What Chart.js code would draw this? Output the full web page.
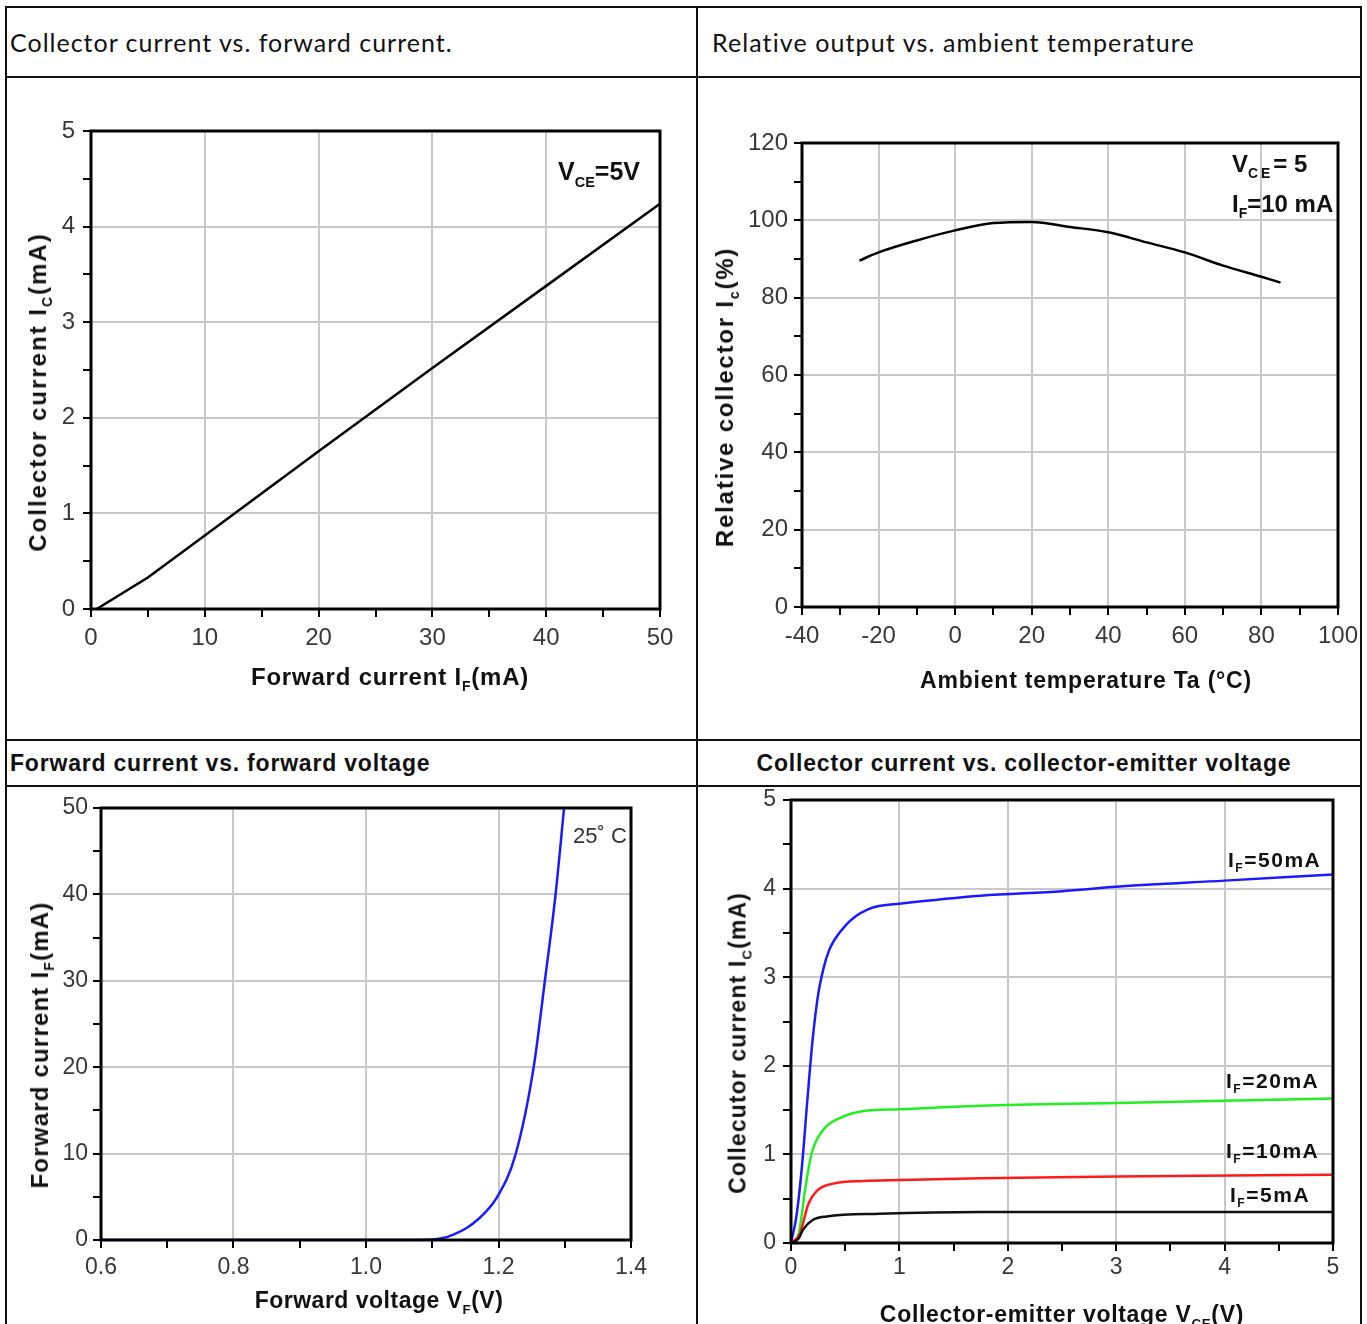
<!DOCTYPE html>
<html>
<head>
<meta charset="utf-8">
<script src="https://cdn.jsdelivr.net/npm/chart.js@4.4.1/dist/chart.umd.min.js"></script>
<style>
body { margin:0; width:1367px; height:1324px; overflow:hidden; background:#fff; position:relative; font-family:"Liberation Sans", Arial, sans-serif; }
.ln { position:absolute; background:#111; }
.hd { position:absolute; white-space:nowrap; color:#111; line-height:1; }
.cell { position:absolute; }
.tt { position:absolute; font-weight:bold; font-size:22px; line-height:1; color:#111; white-space:nowrap; transform:translate(-50%,-50%); }
.tt.rot { transform:translate(-50%,-50%) rotate(-90deg); }
.note { position:absolute; font-weight:bold; font-size:21px; line-height:1; color:#111; white-space:nowrap; }
sub { font-size:58%; vertical-align:-0.45em; line-height:0; }
</style>
</head>
<body>

<!-- table frame -->
<div class="ln" style="left:5px;top:6px;width:1357px;height:2px"></div>
<div class="ln" style="left:5px;top:6px;width:2px;height:1330px"></div>
<div class="ln" style="left:1360px;top:6px;width:2px;height:1330px"></div>
<div class="ln" style="left:696px;top:6px;width:2px;height:1330px"></div>
<div class="ln" style="left:5px;top:76px;width:1357px;height:2px"></div>
<div class="ln" style="left:5px;top:739px;width:1357px;height:2px"></div>
<div class="ln" style="left:5px;top:785px;width:1357px;height:2px"></div>

<div class="hd" style="left:10px;top:30px;font-family:Lato,sans-serif;font-size:25px;letter-spacing:1px;">Collector current vs. forward current.</div>
<div class="hd" style="left:712px;top:30px;font-family:Lato,sans-serif;font-size:25px;letter-spacing:1.1px;">Relative output vs. ambient temperature</div>
<div class="hd" style="left:10px;top:752px;font-size:23px;font-weight:bold;letter-spacing:0.8px;">Forward current vs. forward voltage</div>
<div class="hd" style="left:1024px;top:752px;font-size:23px;font-weight:bold;letter-spacing:0.8px;transform:translateX(-50%);">Collector current vs. collector-emitter voltage</div>

<div class="cell" style="left:7px;top:79px;"><canvas id="c1" width="688" height="659"></canvas></div>
<div class="cell" style="left:699px;top:79px;"><canvas id="c2" width="671" height="659"></canvas></div>
<div class="cell" style="left:7px;top:787px;"><canvas id="c3" width="688" height="537"></canvas></div>
<div class="cell" style="left:699px;top:775px;"><canvas id="c4" width="660" height="549"></canvas></div>

<!-- axis titles -->
<div class="tt" style="left:390px;top:677px;font-size:24px;letter-spacing:0.8px;">Forward current I<sub>F</sub>(mA)</div>
<div class="tt rot" style="left:38px;top:392px;font-size:24px;letter-spacing:2px;">Collector current I<sub>C</sub>(mA)</div>
<div class="tt" style="left:1086px;top:680px;font-size:23px;letter-spacing:0.8px;">Ambient temperature Ta (°C)</div>
<div class="tt rot" style="left:725px;top:397px;font-size:24px;letter-spacing:1.8px;">Relative collector I<sub>c</sub>(%)</div>
<div class="tt" style="left:379px;top:1300px;font-size:23px;letter-spacing:0.5px;">Forward voltage V<sub>F</sub>(V)</div>
<div class="tt rot" style="left:40px;top:1045px;font-size:24px;letter-spacing:1.2px;">Forward current I<sub>F</sub>(mA)</div>
<div class="tt" style="left:1062px;top:1314px;font-size:23px;letter-spacing:0.7px;">Collector-emitter voltage V<sub>CE</sub>(V)</div>
<div class="tt rot" style="left:738px;top:1043px;font-size:23px;letter-spacing:1.1px;">Collecutor current I<sub>C</sub>(mA)</div>

<!-- notes -->
<div class="note" style="left:558px;top:159px;font-size:25px;">V<sub>CE</sub>=5V</div>
<div class="note" style="left:1232px;top:152px;font-size:24px;">V<sub style="letter-spacing:3px">CE</sub>= 5</div>
<div class="note" style="left:1232px;top:192px;font-size:24px;">I<sub>F</sub>=10 mA</div>
<div class="note" style="left:573px;top:825px;font-weight:normal;font-size:22px;color:#333;">25˚ C</div>
<div class="note" style="left:1228px;top:849px;letter-spacing:1.5px;">I<sub>F</sub>=50mA</div>
<div class="note" style="left:1226px;top:1070px;letter-spacing:1.5px;">I<sub>F</sub>=20mA</div>
<div class="note" style="left:1226px;top:1140px;letter-spacing:1.5px;">I<sub>F</sub>=10mA</div>
<div class="note" style="left:1230px;top:1184px;letter-spacing:1.5px;">I<sub>F</sub>=5mA</div>

<script>
// collector current vs. forward current
var ifFwd = [0.5, 5, 10, 20, 30, 40, 50];
var icFwd = [0, 0.33, 0.77, 1.65, 2.52, 3.38, 4.24];

// relative output vs. ambient temperature
var tempC = [-25, -20, -10, 0, 10, 20, 30, 40, 50, 60, 70, 80, 85];
var relOut = [89.6, 91.7, 94.8, 97.4, 99.3, 99.6, 98.3, 96.9, 94.3, 91.7, 88.3, 85.4, 83.9];

// forward current vs. forward voltage
var vf = [0.6, 1.07, 1.1, 1.12, 1.136, 1.15, 1.162, 1.18, 1.197, 1.225, 1.253, 1.27, 1.286, 1.299];
var ifVf = [0, 0, 0.05, 0.3, 0.77, 1.3, 1.93, 3.2, 4.84, 9.7, 19.95, 30, 39.9, 50];

// collector current vs. collector-emitter voltage, one pair per IF
var vce50 = [0, 0.05, 0.1, 0.15, 0.2, 0.25, 0.3, 0.35, 0.4, 0.5, 0.6, 0.7, 0.8, 1, 1.75, 2.5, 3, 4, 5];
var ic50 = [0, 0.3, 0.85, 1.6, 2.3, 2.8, 3.1, 3.3, 3.42, 3.58, 3.69, 3.76, 3.8, 3.83, 3.92, 3.97, 4.02, 4.09, 4.16];
var vce20 = [0, 0.07, 0.13, 0.19, 0.3, 0.45, 0.67, 1, 1.75, 3, 5];
var ic20 = [0, 0.1, 0.6, 1.01, 1.28, 1.41, 1.49, 1.51, 1.55, 1.58, 1.63];
var vce10 = [0, 0.08, 0.16, 0.24, 0.39, 0.67, 1, 1.75, 3, 5];
var ic10 = [0, 0.1, 0.44, 0.59, 0.67, 0.7, 0.71, 0.73, 0.75, 0.77];
var vce5 = [0, 0.07, 0.11, 0.2, 0.33, 0.82, 1.75, 5];
var ic5 = [0, 0.05, 0.15, 0.26, 0.3, 0.33, 0.35, 0.35];

Chart.defaults.font.family = '"Liberation Sans", Arial, sans-serif';

function pts(xs, ys) {
    var out = [];
    for (var i = 0; i < xs.length; i++) out.push({x: xs[i], y: ys[i]});
    return out;
}

var boxPlugin = {
    id: 'box',
    afterDatasetsDraw: function(chart) {
        var a = chart.chartArea, c = chart.ctx;
        c.save();
        c.strokeStyle = '#000';
        c.lineWidth = 3;
        c.strokeRect(a.left, a.top, a.right - a.left, a.bottom - a.top);
        c.restore();
    }
};

function axis(min, max, step, major, digits, pad, size, fsize) {
    function isMajor(v) {
        var k = (v - min) / major;
        return Math.abs(k - Math.round(k)) < 1e-6;
    }
    return {
        type: 'linear', min: min, max: max,
        afterFit: function(s) { if (s.isHorizontal()) s.height = size; else s.width = size; },
        border: { display: false },
        grid: {
            color: function(ctx) { return ctx.tick && isMajor(ctx.tick.value) ? '#c8c8c8' : 'rgba(0,0,0,0)'; },
            lineWidth: 2, tickColor: '#000', tickWidth: 2, tickLength: 8
        },
        ticks: {
            stepSize: step, autoSkip: false, maxRotation: 0, padding: pad, color: '#383838',
            font: { size: fsize, lineHeight: 1 },
            callback: function(v) { return isMajor(v) ? v.toFixed(digits) : ''; }
        }
    };
}

// cell and plot are page rectangles [x0, y0, x1, y1]
function draw(id, cell, plot, xs, ys, sets) {
    new Chart(document.getElementById(id), {
        type: 'scatter',
        data: { datasets: sets },
        options: {
            responsive: false, animation: false, events: [],
            layout: { padding: {
                left: plot[0] - cell[0] - ys.size,
                top: plot[1] - cell[1],
                right: cell[2] - plot[2],
                bottom: cell[3] - plot[3] - xs.size
            } },
            plugins: { legend: { display: false }, tooltip: { enabled: false } },
            scales: {
                x: axis(xs.min, xs.max, xs.step, xs.major, xs.digits, xs.pad, xs.size, xs.font),
                y: axis(ys.min, ys.max, ys.step, ys.major, ys.digits, ys.pad, ys.size, ys.font)
            }
        },
        plugins: [boxPlugin]
    });
}

function curve(xs, ys, color, smooth) {
    return {
        data: pts(xs, ys), showLine: true, borderColor: color, borderWidth: 2.5,
        pointRadius: 0, cubicInterpolationMode: smooth ? 'monotone' : 'default', tension: 0
    };
}

draw('c1', [7, 79, 695, 738], [91, 131, 660, 609],
    { min: 0, max: 50, step: 5, major: 10, digits: 0, pad: 9, size: 45, font: 24 },
    { min: 0, max: 5, step: 0.5, major: 1, digits: 0, pad: 8, size: 60, font: 24 },
    [curve(ifFwd, icFwd, '#000', false)]);

draw('c2', [699, 79, 1370, 738], [802, 143, 1338, 607],
    { min: -40, max: 100, step: 10, major: 20, digits: 0, pad: 9, size: 45, font: 24 },
    { min: 0, max: 120, step: 10, major: 20, digits: 0, pad: 6, size: 70, font: 24 },
    [curve(tempC, relOut, '#000', true)]);

draw('c3', [7, 787, 695, 1324], [101, 808, 631, 1240],
    { min: 0.6, max: 1.4, step: 0.1, major: 0.2, digits: 1, pad: 8, size: 45, font: 23 },
    { min: 0, max: 50, step: 5, major: 10, digits: 0, pad: 5, size: 60, font: 23 },
    [curve(vf, ifVf, '#1a1aff', true)]);

draw('c4', [699, 775, 1359, 1324], [791, 800, 1333, 1243],
    { min: 0, max: 5, step: 0.5, major: 1, digits: 0, pad: 5, size: 45, font: 23 },
    { min: 0, max: 5, step: 0.5, major: 1, digits: 0, pad: 7, size: 60, font: 23 },
    [curve(vce5, ic5, '#111', true),
     curve(vce10, ic10, '#ff1a1a', true),
     curve(vce20, ic20, '#22ee22', true),
     curve(vce50, ic50, '#1a1aff', true)]);
</script>
</body>
</html>
